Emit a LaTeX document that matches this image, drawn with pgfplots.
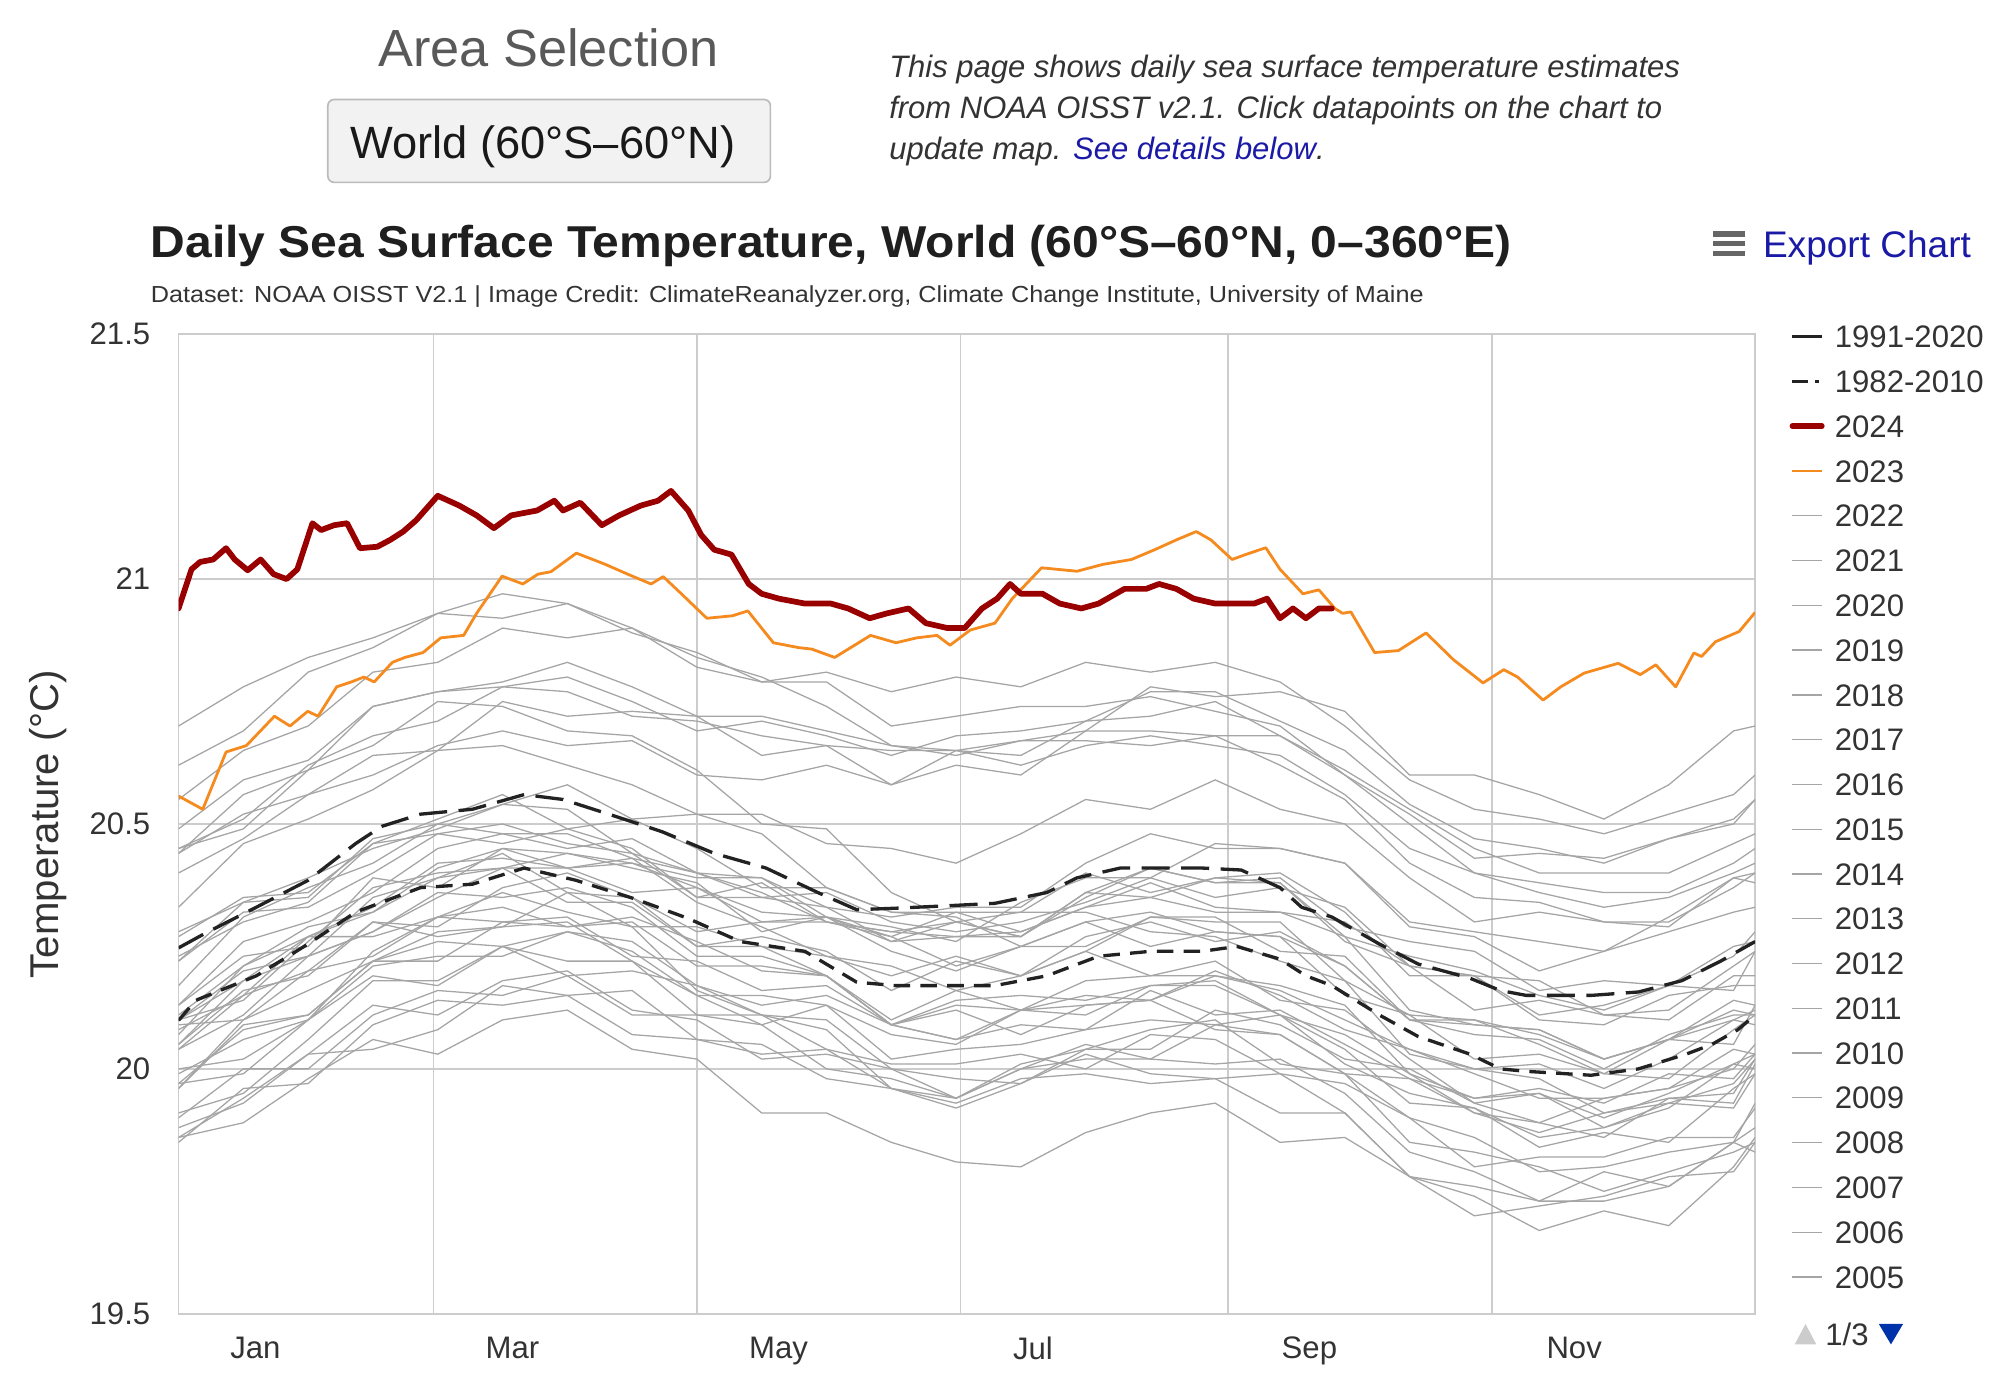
\documentclass[border=0pt]{standalone}
\usepackage{fontspec}
\setmainfont{Liberation Sans}
\usepackage{graphicx}
\usepackage{pgfplots}
\usepackage{pgfplotstable}
\pgfplotsset{compat=1.18}

\definecolor{txt}{HTML}{333333}
\definecolor{areagray}{HTML}{595959}
\definecolor{gridc}{HTML}{CCCCCC}
\definecolor{linkblue}{HTML}{1A1AA6}
\definecolor{navblue}{HTML}{0033AA}
\definecolor{btnfill}{HTML}{F2F2F2}
\definecolor{btnborder}{HTML}{BBBBBB}
\definecolor{red24}{HTML}{990000}
\definecolor{org23}{HTML}{F58A1F}
\definecolor{yrgray}{HTML}{A5A5A5}
\definecolor{meanblack}{HTML}{222222}

\newcommand{\fs}[1]{\fontsize{#1pt}{#1pt}\selectfont}

\pgfplotstableread{
day y1982 y1983 y1984 y1985 y1986 y1987 y1988 y1989 y1990 y1991 y1992 y1993 y1994 y1995 y1996 y1997 y1998 y1999 y2000 y2001 y2002 y2003 y2004 y2005 y2006 y2007 y2008 y2009 y2010 y2011 y2012 y2013 y2014 y2015 y2016 y2017 y2018 y2019 y2020 y2021 y2022
1 19.90 20.08 19.86 19.86 19.85 20.04 20.10 19.88 19.97 20.09 20.04 19.91 19.97 20.05 20.00 20.05 20.45 19.96 19.99 20.10 20.13 20.27 20.22 20.23 20.07 20.28 19.96 20.11 20.33 20.10 20.13 20.17 20.22 20.44 20.70 20.44 20.40 20.55 20.62 20.45 20.49
16 20.00 20.15 19.94 19.89 19.96 20.11 20.18 19.93 20.08 20.10 20.15 19.95 19.99 20.18 20.02 20.16 20.49 20.09 20.06 20.14 20.26 20.35 20.32 20.30 20.21 20.34 20.10 20.21 20.46 20.20 20.23 20.31 20.34 20.52 20.78 20.56 20.47 20.65 20.69 20.51 20.59
31 20.00 20.27 20.03 19.98 19.97 20.23 20.27 20.03 20.11 20.20 20.20 20.06 20.10 20.23 20.10 20.19 20.61 20.11 20.10 20.26 20.30 20.36 20.33 20.34 20.27 20.35 20.16 20.29 20.51 20.23 20.25 20.37 20.39 20.56 20.84 20.61 20.56 20.70 20.81 20.62 20.63
46 20.11 20.32 20.04 20.06 20.09 20.28 20.27 20.13 20.22 20.23 20.30 20.18 20.19 20.28 20.21 20.30 20.66 20.22 20.24 20.37 20.36 20.46 20.40 20.46 20.33 20.47 20.22 20.32 20.57 20.35 20.39 20.42 20.45 20.64 20.88 20.74 20.60 20.81 20.86 20.68 20.74
61 20.16 20.39 20.08 20.03 20.14 20.35 20.31 20.11 20.22 20.31 20.27 20.18 20.17 20.36 20.23 20.29 20.75 20.26 20.31 20.40 20.45 20.48 20.48 20.51 20.42 20.50 20.28 20.41 20.65 20.39 20.37 20.50 20.49 20.65 20.93 20.77 20.66 20.83 20.93 20.71 20.77
76 20.15 20.44 20.17 20.10 20.13 20.41 20.36 20.18 20.30 20.33 20.29 20.25 20.25 20.35 20.23 20.37 20.74 20.25 20.30 20.41 20.48 20.46 20.50 20.56 20.43 20.48 20.29 20.45 20.66 20.41 20.45 20.54 20.54 20.75 20.97 20.79 20.69 20.90 20.92 20.78 20.78
91 20.19 20.36 20.15 20.12 20.15 20.34 20.32 20.20 20.31 20.29 20.30 20.19 20.22 20.37 20.28 20.40 20.69 20.28 20.29 20.44 20.45 20.49 20.46 20.49 20.41 20.48 20.36 20.41 20.62 20.41 20.44 20.53 20.58 20.72 20.95 20.83 20.66 20.88 20.95 20.77 20.80
106 20.11 20.35 20.16 20.04 20.07 20.34 20.29 20.12 20.23 20.30 20.22 20.20 20.22 20.33 20.26 20.35 20.68 20.24 20.31 20.41 20.47 20.45 20.44 20.51 20.42 20.43 20.29 20.43 20.58 20.36 20.42 20.44 20.51 20.73 20.90 20.78 20.67 20.90 20.89 20.72 20.75
121 20.11 20.25 20.06 20.02 20.06 20.25 20.16 20.10 20.22 20.21 20.11 20.17 20.15 20.23 20.17 20.28 20.61 20.15 20.26 20.38 20.40 20.35 20.35 20.45 20.37 20.34 20.29 20.40 20.52 20.37 20.39 20.40 20.52 20.72 20.84 20.72 20.60 20.82 20.85 20.71 20.69
136 20.09 20.25 20.03 19.91 20.05 20.27 20.11 20.02 20.16 20.21 20.11 20.11 20.09 20.23 20.13 20.30 20.50 20.15 20.20 20.28 20.35 20.35 20.38 20.37 20.32 20.29 20.25 20.39 20.48 20.30 20.39 20.36 20.52 20.64 20.80 20.72 20.59 20.79 20.79 20.68 20.71
151 20.00 20.19 20.04 19.91 19.98 20.24 20.10 20.03 20.17 20.19 20.08 20.04 20.13 20.19 20.15 20.31 20.49 20.13 20.19 20.31 20.36 20.33 20.30 20.37 20.31 20.23 20.23 20.33 20.37 20.30 20.31 20.30 20.46 20.66 20.74 20.69 20.62 20.81 20.79 20.66 20.68
166 19.98 20.09 19.96 19.85 19.96 20.16 20.00 20.00 20.09 20.09 19.96 20.01 20.07 20.09 20.09 20.29 20.36 20.02 20.10 20.24 20.30 20.26 20.28 20.32 20.26 20.21 20.19 20.31 20.32 20.27 20.27 20.28 20.45 20.58 20.66 20.66 20.58 20.77 20.70 20.65 20.64
181 19.94 20.12 19.92 19.81 19.94 20.22 19.94 19.98 20.06 20.13 19.93 20.01 20.05 20.14 20.06 20.26 20.30 20.04 20.16 20.20 20.28 20.27 20.27 20.32 20.30 20.16 20.23 20.33 20.31 20.21 20.32 20.30 20.42 20.65 20.65 20.64 20.62 20.80 20.72 20.65 20.68
196 20.01 20.07 19.97 19.80 20.00 20.19 20.00 19.97 20.12 20.12 19.98 20.03 20.12 20.15 20.09 20.34 20.32 20.05 20.12 20.25 20.30 20.27 20.28 20.28 20.27 20.19 20.19 20.33 20.25 20.25 20.32 20.27 20.48 20.67 20.62 20.67 20.60 20.78 20.74 20.64 20.69
211 20.04 20.13 20.03 19.87 20.02 20.27 20.05 20.04 20.15 20.11 19.99 20.00 20.13 20.14 20.08 20.39 20.32 20.08 20.18 20.30 20.34 20.36 20.33 20.33 20.36 20.24 20.24 20.42 20.30 20.25 20.40 20.35 20.55 20.69 20.66 20.67 20.69 20.83 20.74 20.71 20.71
226 20.04 20.14 19.99 19.91 20.02 20.30 20.02 20.08 20.14 20.17 19.97 20.07 20.14 20.17 20.16 20.39 20.28 20.10 20.19 20.32 20.39 20.35 20.38 20.35 20.41 20.19 20.31 20.48 20.25 20.31 20.36 20.41 20.53 20.78 20.68 20.66 20.69 20.81 20.76 20.72 20.77
241 20.12 20.08 19.98 19.93 20.09 20.26 20.01 20.10 20.20 20.18 19.98 20.06 20.19 20.17 20.11 20.46 20.27 20.09 20.19 20.28 20.35 20.39 20.33 20.32 20.38 20.22 20.30 20.45 20.28 20.31 20.39 20.38 20.59 20.76 20.66 20.68 20.68 20.83 20.73 20.75 20.77
256 20.09 20.07 19.99 19.85 20.07 20.28 20.02 20.01 20.15 20.11 19.91 19.99 20.16 20.11 20.12 20.45 20.22 20.11 20.17 20.27 20.37 20.38 20.32 20.32 20.39 20.14 20.30 20.45 20.27 20.24 20.40 20.38 20.53 20.77 20.64 20.62 20.68 20.79 20.70 20.68 20.71
271 20.02 19.99 19.91 19.86 19.99 20.21 19.95 19.99 20.08 20.07 19.91 19.97 20.10 20.04 20.05 20.42 20.18 20.01 20.13 20.21 20.33 20.26 20.30 20.27 20.29 20.12 20.18 20.42 20.15 20.23 20.32 20.27 20.50 20.73 20.56 20.55 20.60 20.70 20.60 20.61 20.65
286 20.00 19.85 19.78 19.78 19.98 20.10 19.83 19.90 20.04 19.99 19.78 19.90 20.04 19.93 19.98 20.30 20.03 19.95 19.99 20.10 20.21 20.21 20.21 20.12 20.26 20.02 20.11 20.29 20.11 20.10 20.19 20.23 20.39 20.60 20.45 20.42 20.52 20.59 20.50 20.53 20.54
301 19.93 19.83 19.74 19.70 19.91 20.10 19.79 19.80 19.99 19.91 19.76 19.86 20.00 19.92 19.94 20.28 20.00 19.92 19.94 20.09 20.19 20.12 20.19 20.09 20.24 19.93 20.10 20.27 20.02 20.07 20.19 20.20 20.30 20.60 20.40 20.35 20.43 20.53 20.40 20.45 20.47
316 19.89 19.80 19.67 19.72 19.87 20.07 19.73 19.82 19.94 19.89 19.73 19.79 20.01 19.86 19.95 20.26 19.98 19.84 19.96 20.08 20.11 20.14 20.10 20.08 20.16 19.95 20.05 20.20 20.03 20.06 20.18 20.15 20.32 20.56 20.36 20.34 20.44 20.51 20.38 20.40 20.45
331 19.94 19.75 19.71 19.74 19.91 20.02 19.79 19.82 19.94 19.86 19.73 19.80 19.96 19.88 19.88 20.24 19.91 19.87 19.93 20.02 20.13 20.11 20.09 20.02 20.18 19.90 19.99 20.24 19.99 20.00 20.11 20.12 20.30 20.51 20.33 20.30 20.43 20.48 20.36 20.40 20.42
346 19.96 19.79 19.68 19.78 19.93 20.06 19.76 19.86 19.96 19.94 19.76 19.83 20.02 19.93 19.92 20.31 19.94 19.85 19.99 20.06 20.17 20.10 20.15 20.06 20.17 19.95 20.06 20.28 19.98 20.07 20.12 20.17 20.29 20.58 20.35 20.30 20.47 20.52 20.36 20.40 20.47
361 20.00 19.83 19.80 19.79 19.97 20.10 19.85 19.86 20.04 19.95 19.85 19.85 20.10 19.92 20.01 20.39 19.93 19.96 19.98 20.14 20.16 20.19 20.17 20.05 20.25 20.01 20.12 20.32 20.08 20.11 20.21 20.23 20.39 20.69 20.40 20.37 20.50 20.56 20.42 20.46 20.51
366 20.05 19.85 19.86 19.85 20.02 20.12 19.88 19.92 20.03 20.02 19.83 19.93 20.09 19.99 20.03 20.38 20.01 19.99 20.03 20.13 20.24 20.19 20.17 20.13 20.26 20.00 20.11 20.33 20.11 20.11 20.24 20.28 20.40 20.70 20.42 20.40 20.55 20.60 20.45 20.48 20.55
}\grays

\begin{document}
\begin{tikzpicture}

\begin{axis}[
  at={(140pt,57pt)}, anchor=south west,
  scale only axis, width=1236pt, height=768pt,
  xmin=1, xmax=366, ymin=19.5, ymax=21.5,
  axis line style={draw=gridc, line width=1.3pt},
  xtick={60,121,182,244,305}, xticklabels={},
  extra x ticks={18.8,78.3,139.9,198.8,262.8,324.1},
  extra x tick labels={Jan,Mar,May,Jul,Sep,Nov},
  extra x tick style={grid=none},
  ytick={19.5,20,20.5,21,21.5}, yticklabels={19.5,20,20.5,21,21.5},
  xmajorgrids, ymajorgrids,
  major grid style={draw=gridc, line width=1.3pt},
  major tick length=0pt,
  tick style={draw=none},
  tick label style={font=\fs{24.4}, text=txt, inner sep=0pt},
  xticklabel style={anchor=north, yshift=-18pt},
  yticklabel style={anchor=east, xshift=-22pt},
  ylabel={Temperature (°C)},
  every axis y label/.style={at={(axis description cs:-0.08252,0.5)}, anchor=center, rotate=90, font=\fs{31.5}, text=txt, inner sep=0pt},
  legend style={at={(rel axis cs:1.02184,1.00879)}, anchor=north west, draw=none, fill=none,
    inner sep=0pt, outer sep=0pt, row sep=17.6pt, font=\fs{24.4}, text=txt,
    nodes={inner sep=0pt, text height=17.5pt, text depth=0pt, anchor=base west},
    /tikz/every odd column/.append style={column sep=8pt}},
  legend cell align=left,
  legend image code/.code={\draw[#1] (0pt,8.75pt) -- (23pt,8.75pt);},
]

% legend (page 1 of 3)
\addlegendimage{meanblack, line width=2.6pt}
\addlegendentry{1991-2020}
\addlegendimage{legend image code/.code={\draw[meanblack, line width=2.6pt] (0pt,8.75pt) -- (12pt,8.75pt); \draw[meanblack, line width=2.6pt] (18pt,8.75pt) -- (21pt,8.75pt);}}
\addlegendentry{1982-2010}
\addlegendimage{red24, line width=4.5pt, line cap=round}
\addlegendentry{2024}
\addlegendimage{org23, line width=2.2pt}
\addlegendentry{2023}
\pgfplotsinvokeforeach{2022,2021,...,2005}{
  \addlegendimage{yrgray, line width=1pt}
  \addlegendentry{#1}
}

% years 1982-2022
\pgfplotsinvokeforeach{1982,...,2022}{
  \addplot[yrgray, line width=1pt, forget plot] table[x=day, y=y#1] {\grays};
}

% 1991-2020 mean
\addplot[meanblack, line width=2.6pt, dash pattern=on 22pt off 9pt, forget plot] coordinates {
(1,20.247) (7,20.276) (19,20.33) (31,20.385) (42,20.46) (48,20.495) (57,20.52) (69,20.53) (81,20.56) (90,20.55)
(102,20.516) (113,20.484) (125,20.44) (137,20.41) (149,20.36) (158,20.325) (167,20.328) (179,20.333) (190,20.338)
(202,20.36) (209,20.39) (219,20.41) (238,20.41) (247,20.406) (256,20.37) (261,20.33) (268,20.31) (279,20.255)
(288,20.214) (300,20.185) (307,20.16) (313,20.15) (328,20.15) (339,20.157) (349,20.18) (358,20.22) (366,20.26)
};
% 1982-2010 mean
\addplot[meanblack, line width=2.6pt, dash pattern=on 13pt off 8pt, forget plot] coordinates {
(1,20.099) (5,20.14) (19,20.19) (31,20.255) (42,20.32) (57,20.37) (69,20.377) (81,20.41) (93,20.385) (107,20.346)
(119,20.307) (131,20.26) (146,20.24) (158,20.177) (167,20.17) (179,20.17) (190,20.17) (202,20.19) (214,20.23)
(226,20.24) (238,20.24) (246,20.25) (256,20.224) (262,20.19) (268,20.17) (279,20.11) (288,20.066) (300,20.03)
(307,20.0) (313,19.995) (328,19.987) (339,20.0) (350,20.03) (356,20.05) (362,20.08) (366,20.11)
};
% 2023
\addplot[org23, line width=2.2pt, line join=round, forget plot] coordinates {
(1,20.557) (6.6,20.53) (12,20.647) (16.7,20.66) (23.2,20.72) (26.8,20.70) (30.9,20.73) (33.3,20.72) (37.6,20.78)
(41,20.79) (43.9,20.80) (46.3,20.79) (50.5,20.83) (53.4,20.84) (57.6,20.85) (61.7,20.88) (67,20.885) (70,20.93)
(75.9,21.006) (80.7,20.99) (84.2,21.01) (87.2,21.015) (93.1,21.053) (99.8,21.03) (105.5,21.008) (110.4,20.99)
(113.2,21.005) (117.4,20.97) (123.3,20.92) (129.2,20.925) (132.8,20.935) (138.7,20.87) (144.6,20.86) (147.6,20.857)
(152.9,20.84) (161.2,20.885) (167.1,20.87) (171.9,20.88) (176.6,20.885) (179.6,20.865) (184.3,20.896) (190,20.91)
(194,20.96) (200.8,21.023) (209,21.016) (215,21.03) (221.6,21.04) (227,21.06) (232,21.08) (236.6,21.097) (240,21.08)
(244.9,21.04) (248,21.05) (252.7,21.064) (256,21.02) (261.3,20.97) (265,20.978) (268.7,20.94) (270.5,20.93)
(272.4,20.933) (277.9,20.85) (283.4,20.854) (289.8,20.89) (296.2,20.835) (303,20.788) (307.8,20.815) (311,20.80)
(316.9,20.753) (321,20.78) (326.4,20.808) (334.3,20.828) (339.4,20.805) (343,20.825) (347.6,20.78) (351.8,20.849)
(353.6,20.842) (356.8,20.872) (362.3,20.893) (366,20.932)
};
% 2024
\addplot[red24, line width=4.5pt, line join=round, line cap=round, forget plot] coordinates {
(1,20.94) (4,21.02) (6,21.035) (9,21.04) (12,21.063) (14,21.04) (17,21.018) (20,21.04) (23,21.01) (26,21.00)
(28.5,21.02) (32,21.114) (34,21.10) (37,21.11) (40,21.114) (43,21.063) (47,21.066) (50,21.08) (53,21.097) (56,21.12)
(61,21.17) (66,21.15) (70,21.13) (74,21.104) (78,21.13) (84,21.14) (88,21.16) (90,21.14) (94,21.156) (99,21.11)
(103,21.13) (108,21.15) (112,21.16) (115,21.18) (119,21.14) (122,21.09) (125,21.06) (129,21.05) (133,20.99)
(136,20.97) (140,20.96) (146,20.95) (152,20.95) (156,20.94) (161,20.92) (165,20.93) (170,20.94) (174,20.91)
(179,20.90) (183,20.90) (187,20.94) (190.5,20.96) (193.5,20.99) (196,20.97) (201,20.97) (205,20.95) (210,20.94)
(214,20.95) (220,20.98) (225,20.98) (228,20.99) (232,20.98) (236,20.96) (241,20.95) (245,20.95) (250,20.95)
(253,20.96) (256,20.92) (259,20.94) (262,20.92) (265,20.94) (268,20.94)
};
\end{axis}

% header elements
\node[anchor=base, inner sep=0pt, text=areagray, font=\fs{41}] at (430pt,1035pt) {Area Selection};
\draw[btnborder, fill=btnfill, rounded corners=5pt, line width=1.3pt] (257pt,944pt) rectangle (604pt,1009pt);
\node[anchor=base, inner sep=0pt, text=black!90, font=\fs{35.5}] at (425.5pt,963pt) {World (60°S–60°N)};
\node[anchor=base west, inner sep=0pt, text=txt, font=\fs{24.3}\itshape] at (697pt,1026pt) {This page shows daily sea surface temperature estimates};
\node[anchor=base west, inner sep=0pt, text=txt, font=\fs{24.3}\itshape] at (697pt,994pt) {from NOAA OISST v2.1. Click datapoints on the chart to};
\node[anchor=base west, inner sep=0pt, text=txt, font=\fs{24.3}\itshape] at (697pt,962pt) {update map. \textcolor{linkblue}{See details below}.};

\node[anchor=base west, inner sep=0pt, text=black!88] at (118pt,885pt) {\resizebox{1067pt}{\height}{\fs{35}\bfseries Daily Sea Surface Temperature, World (60°S–60°N, 0–360°E)}};
\node[anchor=base west, inner sep=0pt, text=txt] at (118pt,849.5pt) {\resizebox{998pt}{\height}{\fs{18.2}Dataset: NOAA OISST V2.1 | Image Credit: ClimateReanalyzer.org, Climate Change Institute, University of Maine}};

\fill[black!60] (1343pt,901.5pt) rectangle (1368pt,905.5pt);
\fill[black!60] (1343pt,894pt) rectangle (1368pt,898pt);
\fill[black!60] (1343pt,886.5pt) rectangle (1368pt,890.5pt);
\node[anchor=base west, inner sep=0pt, text=linkblue] at (1382pt,885pt) {\resizebox{163pt}{\height}{\fs{29}Export Chart}};

% legend pager
\fill[gridc] (1407pt,33pt) -- (1424pt,33pt) -- (1415.5pt,49pt) -- cycle;
\node[anchor=center, inner sep=0pt, text=txt, font=\fs{24.4}] at (1448pt,41pt) {1/3};
\fill[navblue] (1473pt,49pt) -- (1492pt,49pt) -- (1482.5pt,33pt) -- cycle;

\pgfresetboundingbox
\path[use as bounding box] (0pt,0pt) rectangle (1568pt,1087pt);
\end{tikzpicture}
\end{document}
